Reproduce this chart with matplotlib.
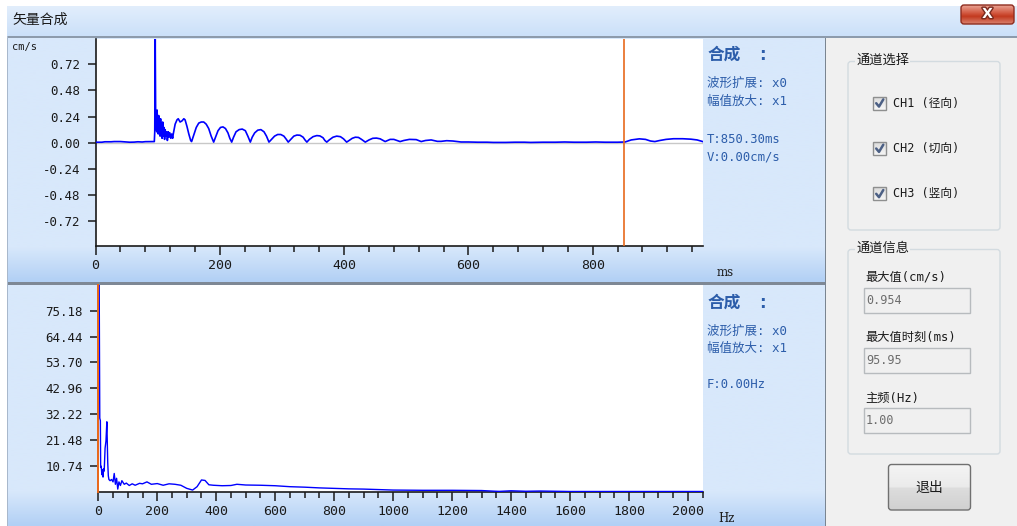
import numpy as np
import matplotlib
matplotlib.use("Agg")
import matplotlib.pyplot as plt
from matplotlib.patches import Rectangle, FancyBboxPatch
from matplotlib.ticker import FixedLocator
from matplotlib.colors import to_rgb
import matplotlib.patheffects as pe

# ---------------- data ----------------
# time-domain vector sum (ms, cm/s)
wave_t = [0, 10, 15, 25, 30, 40, 50, 55, 62, 68, 75, 80, 85, 92, 94.5,
          95.2, 95.95, 96.6, 97.2, 97.8, 98.4, 99.0, 99.6, 100.2, 100.8, 101.5,
          102.2, 103.0, 103.8, 104.6, 105.4, 106.2, 107.0, 108.0, 109.0, 110.0,
          111.0, 112.0, 113.0, 114.5, 115.5, 117.0, 118.0, 119.5, 121.0, 122.5, 124.0,
          125, 128, 131, 133, 136, 139, 142, 144, 147, 150, 153, 154.5,
          158, 162, 166, 170, 174, 178, 182, 186, 190,
          193, 197, 201, 205, 209, 213, 216, 219,
          222, 226, 231, 236, 241, 245, 249,
          252, 256, 261, 266, 271, 275, 279,
          283, 288, 293, 298, 303, 307, 310,
          314, 319, 324, 329, 334, 337, 340,
          344, 350, 356, 361, 366, 369, 372,
          376, 382, 388, 394, 399, 404,
          408, 413, 418, 423, 428, 434,
          440, 446, 452, 458, 466,
          474, 480, 490, 496, 505, 516, 524, 531, 540, 550, 556, 565, 575, 588,
          600, 615, 630, 640, 660, 675, 690, 700, 720, 740, 755, 770, 790, 805,
          820, 840, 852, 862, 875, 885, 893, 900, 908, 918, 930, 945, 958, 968, 977]
wave_v = [0.004, 0.004, 0.008, 0.008, 0.010, 0.010, 0.006, 0.004, 0.005, 0.008,
          0.006, 0.009, 0.009, 0.010, 0.010,
          0.10, 0.954, 0.30, 0.12, 0.26, 0.10, 0.30, 0.14, 0.24, 0.08, 0.25,
          0.12, 0.20, 0.06, 0.22, 0.08, 0.17, 0.04, 0.19, 0.06, 0.14,
          0.03, 0.12, 0.06, 0.10, 0.02, 0.10, 0.05, 0.09, 0.04, 0.08, 0.04,
          0.08, 0.17, 0.21, 0.22, 0.19, 0.20, 0.22, 0.21, 0.15, 0.08, 0.02, 0.01,
          0.07, 0.14, 0.18, 0.19, 0.19, 0.17, 0.13, 0.06, 0.005,
          0.05, 0.11, 0.14, 0.145, 0.13, 0.09, 0.04, 0.005,
          0.05, 0.10, 0.12, 0.125, 0.11, 0.06, 0.005,
          0.05, 0.09, 0.115, 0.12, 0.10, 0.06, 0.005,
          0.03, 0.06, 0.075, 0.075, 0.06, 0.03, 0.005,
          0.03, 0.06, 0.07, 0.068, 0.05, 0.025, 0.005,
          0.03, 0.055, 0.065, 0.062, 0.045, 0.02, 0.005,
          0.025, 0.05, 0.06, 0.055, 0.035, 0.005,
          0.02, 0.04, 0.05, 0.048, 0.03, 0.005,
          0.025, 0.04, 0.042, 0.035, 0.01,
          0.03, 0.03, 0.01, 0.02, 0.03, 0.028, 0.01, 0.02, 0.025, 0.012, 0.012, 0.018, 0.015, 0.006,
          0.006, 0.004, 0.004, 0.002, 0.002, 0.004, 0.004, 0.002, 0.004, 0.004, 0.006, 0.004, 0.004, 0.006,
          0.004, 0.004, 0.006, 0.025, 0.035, 0.03, 0.015, 0.01, 0.02, 0.03, 0.036, 0.036, 0.032, 0.025, 0.01]
wave_peak = 0.954
wave_tmax = 977
cursor_t = 850.30

# amplitude spectrum (Hz, amplitude)
spec_f = [0, 3, 5, 7, 8, 10, 12, 14, 16, 18, 20, 23, 26, 29, 32, 34, 36, 40, 45, 50,
          54, 58, 62, 66, 70, 75, 80, 88, 95, 105, 115, 125, 140, 150, 165, 180, 200,
          220, 240, 260, 280, 300, 320, 335, 350, 362, 375, 390, 420, 450, 470, 500,
          550, 600, 650, 700, 750, 800, 850, 900, 950, 1000, 1100, 1200, 1300, 1340,
          1360, 1400, 1450, 1500, 1600, 1800, 2050]
spec_v = [85.92, 85.92, 30.5, 29.5, 10.0, 10.5, 7.0, 9.0, 6.0, 9.5, 8.5, 18.0, 21.0, 29.0,
          12.0, 6.5, 5.0, 4.5, 5.0, 4.0, 7.5, 3.0, 5.5, 1.0, 4.0, 2.5, 4.5, 3.0, 3.5, 2.5,
          3.2, 2.6, 3.4, 3.2, 4.0, 3.0, 3.3, 2.6, 3.2, 3.0, 2.6, 1.3, 0.6, 2.0, 4.8, 4.6,
          2.8, 2.6, 2.4, 2.5, 3.0, 2.7, 2.6, 2.4, 2.0, 1.8, 1.5, 1.3, 1.1, 1.0, 0.8, 0.6,
          0.5, 0.5, 0.4, 0.15, 0.05, 0.3, 0.1, 0.2, 0.0, 0.0, 0.0]
spec_top = 85.92
spec_fmax = 2051
cursor_f = 0.0

top_ytick_vals = [-0.72, -0.48, -0.24, 0.00, 0.24, 0.48, 0.72]
top_ytick_labels = ["-0.72", "-0.48", "-0.24", "0.00", "0.24", "0.48", "0.72"]
bot_ytick_vals = [10.74, 21.48, 32.22, 42.96, 53.70, 64.44, 75.18]
bot_ytick_labels = ["10.74", "21.48", "32.22", "42.96", "53.70", "64.44", "75.18"]

info_lines = ["波形扩展: x0", "幅值放大: x1"]
top_readout = ["T:850.30ms", "V:0.00cm/s"]
bot_readout = "F:0.00Hz"
channels = ["CH1 (径向)", "CH2 (切向)", "CH3 (竖向)"]
stats_labels = ["最大值(cm/s)", "最大值时刻(ms)", "主频(Hz)"]
stats_values = ["0.954", "95.95", "1.00"]

# ---------------- figure ----------------
W, H = 1017, 526
fig = plt.figure(figsize=(W / 100, H / 100), dpi=100)
fig.patch.set_facecolor("white")

bg = fig.add_axes([0, 0, 1, 1])
bg.axis("off")

CJK = ["Noto Sans CJK SC", "DejaVu Sans"]
MIX = ["DejaVu Sans Mono", "Noto Sans CJK SC"]
INK = "#1a1a1a"
BLUE_TXT = "#2C5DAA"


def grad(x0, y0, x1, y1, stops, z=0, clip=None):
    n = 128
    t = np.linspace(0, 1, n)
    pos = [s[0] for s in stops]
    cols = np.array([to_rgb(s[1]) for s in stops])
    img = np.stack([np.interp(t, pos, cols[:, k]) for k in range(3)], axis=1)[:, None, :]
    im = bg.imshow(img, extent=(x0, x1, y1, y0), aspect="auto", zorder=z,
                   interpolation="bilinear")
    if clip is not None:
        im.set_clip_path(clip)
    return im


def rect(x0, y0, x1, y1, fc, ec="none", lw=0, z=1):
    bg.add_patch(Rectangle((x0, y0), x1 - x0, y1 - y0, fc=fc, ec=ec, lw=lw, zorder=z))


PANEL = "#D8E8FB"
PANEL_DK = "#B2D0F5"

# title bar
grad(7, 6, W, 36, [(0, "#E2EEFC"), (1, "#CBE0F9")], z=0)
bg.text(12, 20, "矢量合成", family=CJK, fontsize=10, color=INK, va="center", ha="left", zorder=3)
rect(7, 35.5, W, 37.5, "#8D9BAC", z=2)

# close button
btn_close = FancyBboxPatch((961, 5), 53, 19, boxstyle="round,pad=0,rounding_size=3",
                           fc="none", ec="#8E2C1E", lw=1.0, zorder=4)
bg.add_patch(btn_close)
grad(961, 5, 1014, 24, [(0, "#EBA595"), (0.45, "#D0533B"), (0.6, "#C2391F"), (1, "#DA8470")],
     z=3, clip=btn_close)
bg.text(987.5, 14, "X", fontsize=10, fontweight="bold", color="white", ha="center", va="center",
        zorder=5, path_effects=[pe.withStroke(linewidth=2, foreground="#7A2A1E")])

# upper and lower blue panels
grad(8, 37.5, 825, 282, [(0, PANEL), (0.86, PANEL), (1, PANEL_DK)], z=0)
rect(8, 282, 825, 284.5, "#7E8895", z=2)
grad(8, 284.5, 825, H, [(0, PANEL), (0.86, PANEL), (1, PANEL_DK)], z=0)
rect(6.5, 36, 8, H, "#A8B8CC", z=2)

# right control panel
rect(826, 37.5, W, H, "#F0F0F0", z=0)
rect(824.5, 37.5, 826, H, "#7A8591", z=2)

# group boxes
for (y0, y1, title) in [(61.5, 230, "通道选择"), (249.5, 454, "通道信息")]:
    bg.add_patch(FancyBboxPatch((848, y0), 152, y1 - y0, boxstyle="round,pad=0,rounding_size=3",
                                fc="none", ec="#D3DBE0", lw=1.0, zorder=2))
    bg.text(856, y0 - 1, title, family=CJK, fontsize=9.5, color=INK, ha="left", va="center",
            zorder=4, bbox=dict(fc="#F0F0F0", ec="none", pad=1.0))

# channel check boxes
for i, lab in enumerate(channels):
    cy = 103 + 45.3 * i
    box = Rectangle((873, cy - 6.5), 13, 13, fc="none", ec="#8E8F8F", lw=1.0, zorder=4)
    bg.add_patch(box)
    grad(873, cy - 6.5, 886, cy + 6.5, [(0, "#DADADA"), (1, "#F6F6F6")], z=3, clip=box)
    bg.plot([876.2, 879.0, 883.3], [cy + 0.2, cy + 3.6, cy - 3.6], color="#4C6085",
            lw=1.8, solid_capstyle="round", zorder=5)
    bg.text(893, cy, lab, family=MIX, fontsize=8.5, color=INK, ha="left", va="center", zorder=4)

# statistics fields
for i, (lab, val) in enumerate(zip(stats_labels, stats_values)):
    ly = 276.5 + 61 * i
    by = 287.5 + 60.2 * i
    bg.text(865, ly, lab, family=MIX, fontsize=8.8, color=INK, ha="left", va="center", zorder=4)
    rect(863.5, by, 969.5, by + 25, "#F0F0F0", ec="#B7BBBE", lw=1.0, z=3)
    bg.text(866, by + 12.5, val, family="DejaVu Sans Mono", fontsize=8.5, color="#6D6D6D",
            ha="left", va="center", zorder=4)

# exit button
btn = FancyBboxPatch((888.5, 464.5), 82, 45.5, boxstyle="round,pad=0,rounding_size=3",
                     fc="none", ec="#707070", lw=1.0, zorder=4)
bg.add_patch(btn)
grad(888.5, 464.5, 970.5, 510, [(0, "#F4F4F4"), (0.5, "#EBEBEB"), (0.52, "#DDDDDD"), (1, "#D0D0D0")],
     z=3, clip=btn)
bg.text(929.5, 488, "退出", family=CJK, fontsize=10, color=INK, ha="center", va="center", zorder=5)

# panel annotations
bg.text(12, 47, "cm/s", family="DejaVu Sans Mono", fontsize=7.5, color=INK, ha="left",
        va="center", zorder=4)
bg.text(717, 272.5, "ms", family="DejaVu Serif", fontsize=8.5, color=INK, ha="left",
        va="center", zorder=4)
bg.text(718, 519, "Hz", family="DejaVu Serif", fontsize=8.5, color=INK, ha="left",
        va="center", zorder=4)

for (y_head, y_l1, y_l2) in [(55, 83.3, 101.7), (302.7, 331.7, 348.3)]:
    bg.text(708, y_head, "合成", family=CJK, fontsize=12, fontweight="bold", color=BLUE_TXT,
            ha="left", va="center", zorder=4)
    bg.text(762, y_head, ":", family="DejaVu Sans", fontsize=12, fontweight="bold",
            color=BLUE_TXT, ha="center", va="center", zorder=4)
    bg.text(707, y_l1, info_lines[0], family=MIX, fontsize=9, color=BLUE_TXT, ha="left",
            va="center", zorder=4)
    bg.text(707, y_l2, info_lines[1], family=MIX, fontsize=9, color=BLUE_TXT, ha="left",
            va="center", zorder=4)
bg.text(707, 139.3, top_readout[0], family="DejaVu Sans Mono", fontsize=8.8, color=BLUE_TXT,
        ha="left", va="center", zorder=4)
bg.text(707, 157.3, top_readout[1], family="DejaVu Sans Mono", fontsize=8.8, color=BLUE_TXT,
        ha="left", va="center", zorder=4)
bg.text(707, 384.3, bot_readout, family="DejaVu Sans Mono", fontsize=8.8, color=BLUE_TXT,
        ha="left", va="center", zorder=4)

bg.set_xlim(0, W)
bg.set_ylim(H, 0)


# ---------------- plotting areas ----------------
def px_axes(x0, y0, x1, y1):
    return fig.add_axes([x0 / W, 1 - y1 / H, (x1 - x0) / W, (y1 - y0) / H])


def style_axes(ax):
    ax.set_facecolor("white")
    for s in ("top", "right"):
        ax.spines[s].set_visible(False)
    for s in ("left", "bottom"):
        ax.spines[s].set_color(INK)
        ax.spines[s].set_linewidth(1.2)
    ax.tick_params(axis="y", which="major", direction="out", length=6, width=1.1,
                   pad=5, colors=INK, labelsize=9)
    ax.tick_params(axis="x", which="major", direction="out", length=6.5, width=1.1,
                   pad=3, colors=INK, labelsize=9.5)
    ax.tick_params(axis="x", which="minor", direction="out", length=4.5, width=1.1, colors=INK)
    for lab in ax.get_xticklabels() + ax.get_yticklabels():
        lab.set_fontfamily("DejaVu Sans Mono")


# waveform
ax1 = px_axes(95.6, 39, 702.7, 246.3)
ax1.plot(wave_t, wave_v, color="#0000FF", lw=1.2, zorder=3)
ax1.axhline(0, color="#C8C8C8", lw=1.0, zorder=1)
ax1.axvline(cursor_t, color="#E8691C", lw=1.2, zorder=4)
ax1.set_xlim(0, wave_tmax)
ax1.set_ylim(-wave_peak, wave_peak)
ax1.xaxis.set_major_locator(FixedLocator([0, 200, 400, 600, 800]))
ax1.xaxis.set_minor_locator(FixedLocator(list(range(0, 961, 40))))
ax1.set_yticks(top_ytick_vals)
ax1.set_yticklabels(top_ytick_labels)
ax1.set_xticklabels(["0", "200", "400", "600", "800"])
style_axes(ax1)

# spectrum
ax2 = px_axes(98.3, 285, 703, 491.5)
ax2.plot(spec_f, spec_v, color="#0000FF", lw=1.0, zorder=3)
ax2.axvline(cursor_f, color="#E8691C", lw=1.4, zorder=6, clip_on=False)
ax2.set_xlim(0, spec_fmax)
ax2.set_ylim(0, spec_top)
ax2.xaxis.set_major_locator(FixedLocator(list(range(0, 2001, 200))))
ax2.xaxis.set_minor_locator(FixedLocator(list(range(0, 2051, 50))))
ax2.set_xticklabels([str(v) for v in range(0, 2001, 200)])
ax2.set_yticks(bot_ytick_vals)
ax2.set_yticklabels(bot_ytick_labels)
style_axes(ax2)
ax2.spines["left"].set_color("#E8691C")

fig.savefig("out.png", dpi=100)
